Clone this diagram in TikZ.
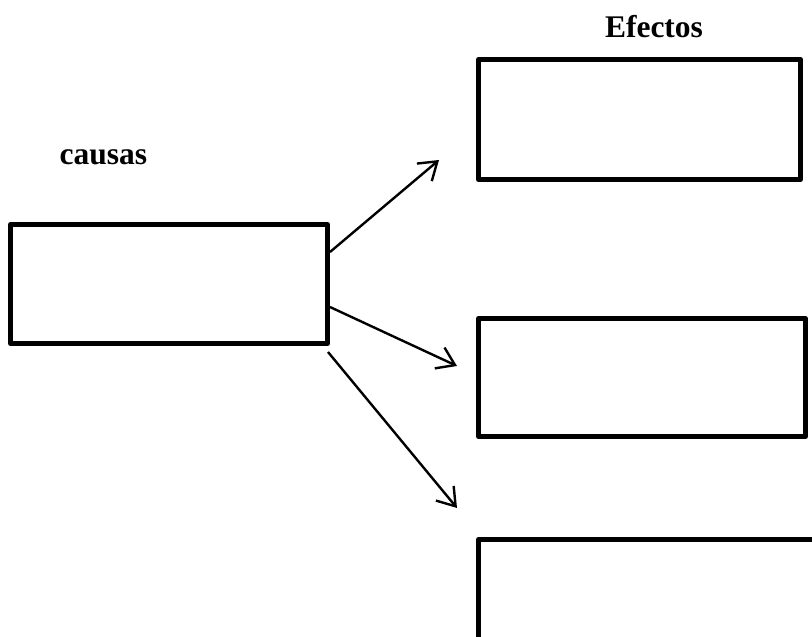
\documentclass[tikz,border=0pt]{standalone}
\usepackage{fontspec}
\setmainfont{Liberation Serif}
\usetikzlibrary{arrows.meta,calc}
\begin{document}
\begin{tikzpicture}[x=1pt,y=-1pt,
  box/.style={draw=black, line width=5pt, line join=round, inner sep=0pt, outer sep=0pt, anchor=north west},
  conn/.style={line width=2.4pt, -{Straight Barb[length=17pt,width=23pt,line width=2.4pt]}},
  lbl/.style={font=\bfseries\fontsize{31.5pt}{36pt}\selectfont, anchor=base, inner sep=0pt}]
\useasboundingbox (0,0) rectangle (812,637);
\clip (0,0) rectangle (812,637);
\node[box, minimum width=317pt, minimum height=119pt] (L) at (10.5,224.5) {};
\node[box, minimum width=322pt, minimum height=120pt] (T) at (478.5,59.5) {};
\node[box, minimum width=327pt, minimum height=118pt] (M) at (478.5,318.5) {};
\node[box, minimum width=360pt, minimum height=120pt] (B) at (478.5,539.5) {};
\node[lbl] (causas) at (103.5,164) {causas};
\node[lbl] (efectos) at (654,37) {Efectos};
\coordinate (s1) at ($(L.north east)+(2.5,27.5)$);
\coordinate (s2) at ($(L.north east)+(2.5,82.5)$);
\coordinate (s3) at ($(L.south east)+(0.5,8.5)$);
\coordinate (e1) at ($(T.south west)+(-39.5,-19.5)$);
\coordinate (e2) at ($(M.west)+(-21.5,-11.5)$);
\coordinate (e3) at ($(B.north west)+(-21.5,-31.5)$);
\draw[conn] (s1) -- (e1);
\draw[conn] (s2) -- (e2);
\draw[conn] (s3) -- (e3);
\end{tikzpicture}
\end{document}
